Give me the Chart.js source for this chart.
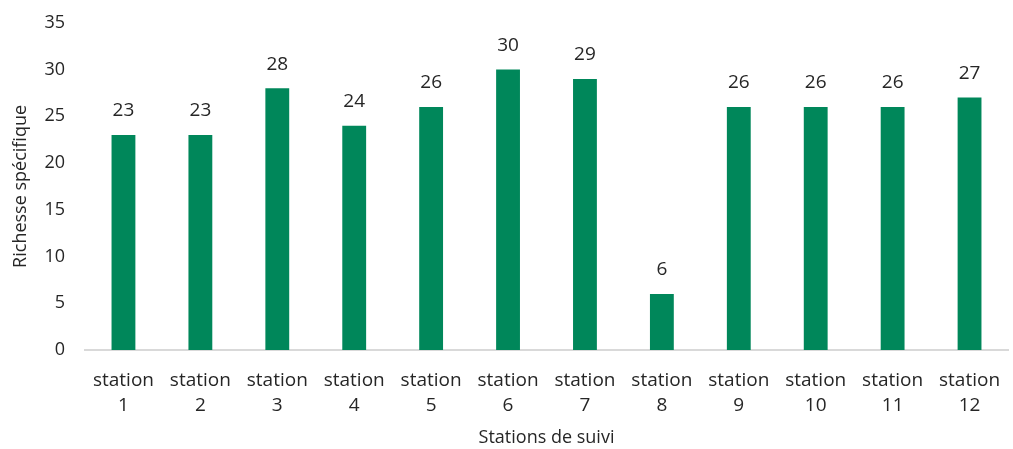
<!DOCTYPE html>
<html>
<head>
<meta charset="utf-8">
<script src="https://cdn.jsdelivr.net/npm/chart.js@4/dist/chart.umd.min.js"></script>
<style>
  html, body { margin: 0; padding: 0; background: #fff; }
  #wrap { width: 1013px; height: 449px; }
</style>
</head>
<body>
<div id="wrap"><canvas id="barChart"></canvas></div>
<script>
const stations = [
  ['station', '1'], ['station', '2'], ['station', '3'], ['station', '4'],
  ['station', '5'], ['station', '6'], ['station', '7'], ['station', '8'],
  ['station', '9'], ['station', '10'], ['station', '11'], ['station', '12']
];
const richesse = [23, 23, 28, 24, 26, 30, 29, 6, 26, 26, 26, 27];
const yTicks = [0, 5, 10, 15, 20, 25, 30, 35];

const FONT = "'Open Sans', sans-serif";
const barColor = '#00875a';
const textColor = '#262626';

// labels au-dessus des barres
const valueLabels = {
  id: 'valueLabels',
  afterDatasetsDraw(chart) {
    const ctx = chart.ctx;
    const meta = chart.getDatasetMeta(0);
    ctx.save();
    ctx.font = '19px ' + FONT;
    ctx.fillStyle = textColor;
    ctx.textAlign = 'center';
    ctx.textBaseline = 'middle';
    meta.data.forEach((bar, i) => {
      ctx.fillText(String(richesse[i]), bar.x, bar.y - 24);
    });
    ctx.restore();
  }
};

new Chart(document.getElementById('barChart'), {
  type: 'bar',
  data: {
    labels: stations,
    datasets: [{
      label: 'Richesse spécifique',
      data: richesse,
      backgroundColor: barColor,
      borderWidth: 0,
      categoryPercentage: 1,
      barPercentage: 0.31
    }]
  },
  options: {
    responsive: true,
    maintainAspectRatio: false,
    animation: false,
    layout: { padding: { top: 22, right: 5, left: 0, bottom: 0 } },
    plugins: {
      legend: { display: false },
      tooltip: { enabled: false }
    },
    scales: {
      x: {
        grid: { display: false },
        border: { display: true, color: '#d9d9d9', width: 2 },
        ticks: {
          color: textColor,
          font: { family: FONT, size: 19, lineHeight: 1.32 },
          maxRotation: 0,
          autoSkip: false,
          padding: 10
        },
        title: {
          display: true,
          text: 'Stations de suivi',
          color: textColor,
          font: { family: FONT, size: 18 },
          padding: { top: 4, bottom: 0 }
        },
        afterFit(scale) { scale.height = 99; }
      },
      y: {
        min: 0,
        max: 35,
        afterBuildTicks(scale) { scale.ticks = yTicks.map(v => ({ value: v })); },
        grid: { display: false },
        border: { display: false },
        ticks: {
          color: textColor,
          font: { family: FONT, size: 18 },
          padding: 12
        },
        title: {
          display: true,
          text: 'Richesse spécifique',
          color: textColor,
          font: { family: FONT, size: 18 },
          padding: { top: 10, bottom: 4 }
        },
        afterFit(scale) { scale.width = 85; }
      }
    }
  },
  plugins: [valueLabels]
});
</script>
</body>
</html>
